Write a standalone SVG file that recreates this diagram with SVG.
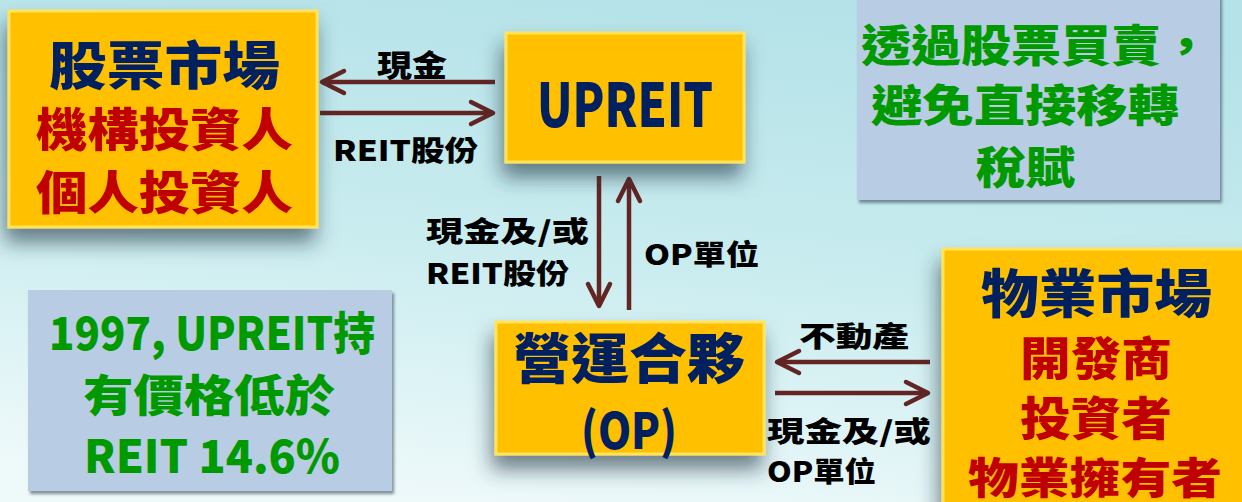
<svg xmlns="http://www.w3.org/2000/svg" width="1242" height="502" viewBox="0 0 1242 502">
<defs>
<linearGradient id="bg" x1="0.6" y1="0" x2="0.35" y2="1">
<stop offset="0" stop-color="#B4E2E8"/>
<stop offset="0.5" stop-color="#C9ECEF"/>
<stop offset="1" stop-color="#EEF9FA"/>
</linearGradient>
<filter id="bigShadow" x="-20%" y="-20%" width="140%" height="150%">
<feDropShadow dx="-3" dy="14" stdDeviation="10" flood-color="#1E3440" flood-opacity="0.6"/>
</filter>
<filter id="smallShadow" x="-10%" y="-10%" width="120%" height="130%">
<feDropShadow dx="2" dy="3" stdDeviation="1.5" flood-color="#2A3A48" flood-opacity="0.55"/>
</filter>
<marker id="head" markerUnits="userSpaceOnUse" markerWidth="34" markerHeight="34" viewBox="-28 -17 34 34" refX="0" refY="0" orient="auto">
<path d="M-22,-11 L0,0 L-22,11" fill="none" stroke="#632523" stroke-width="4.5" stroke-linejoin="round" stroke-linecap="round"/>
</marker>
</defs>
<style>
.ybox{fill:#FFC000;stroke:#FFE45A;stroke-width:3;filter:url(#bigShadow)}
.gbox{fill:#B8CCE4;filter:url(#smallShadow)}
.t{font-family:"Noto Sans CJK TC","Noto Sans CJK SC",sans-serif;font-weight:900;dominant-baseline:central}
.navy{fill:#002060}
.red{fill:#C00000}
.green{fill:#009A00}
.lbl{fill:#000000}
.arr{stroke:#632523;stroke-width:4.5;fill:none;marker-end:url(#head)}
</style>
<rect x="0" y="0" width="1242" height="502" fill="url(#bg)"/>

<g id="connectors">
<line class="arr" x1="495" y1="82" x2="322" y2="82"/>
<line class="arr" x1="320" y1="113" x2="493" y2="113"/>
<line class="arr" x1="599" y1="176" x2="599" y2="306"/>
<line class="arr" x1="629" y1="310" x2="629" y2="179"/>
<line class="arr" x1="930" y1="362" x2="777" y2="362"/>
<line class="arr" x1="775" y1="393" x2="928" y2="393"/>
<text class="t lbl" x="377" y="63" font-size="30" textLength="70" lengthAdjust="spacingAndGlyphs">現金</text>
<text class="t lbl" x="333" y="149" font-size="28" textLength="145" lengthAdjust="spacingAndGlyphs">REIT股份</text>
<text class="t lbl" x="426" y="230" font-size="28" textLength="163" lengthAdjust="spacingAndGlyphs">現金及/或</text>
<text class="t lbl" x="426" y="272" font-size="28" textLength="143" lengthAdjust="spacingAndGlyphs">REIT股份</text>
<text class="t lbl" x="644" y="253" font-size="28" textLength="115" lengthAdjust="spacingAndGlyphs">OP單位</text>
<text class="t lbl" x="799" y="335" font-size="28" textLength="110" lengthAdjust="spacingAndGlyphs">不動產</text>
<text class="t lbl" x="767" y="430" font-size="28" textLength="164" lengthAdjust="spacingAndGlyphs">現金及/或</text>
<text class="t lbl" x="767" y="470" font-size="28" textLength="109" lengthAdjust="spacingAndGlyphs">OP單位</text>
</g>

<g id="stock-market">
<rect class="ybox" x="9" y="11" width="308" height="216"/>
<text class="t navy" x="49" y="62" font-size="52" textLength="231" lengthAdjust="spacingAndGlyphs">股票市場</text>
<text class="t red" x="36" y="126" font-size="46" textLength="257" lengthAdjust="spacingAndGlyphs">機構投資人</text>
<text class="t red" x="36" y="189" font-size="46" textLength="257" lengthAdjust="spacingAndGlyphs">個人投資人</text>
</g>

<g id="upreit">
<rect class="ybox" x="506" y="33" width="238" height="129"/>
<text class="t navy" x="537" y="100" font-size="60" textLength="176" lengthAdjust="spacingAndGlyphs">UPREIT</text>
</g>

<g id="op">
<rect class="ybox" x="496" y="322" width="268" height="132"/>
<text class="t navy" x="513" y="355" font-size="54" textLength="232" lengthAdjust="spacingAndGlyphs">營運合夥</text>
<text class="t navy" x="581" y="427" font-size="50" textLength="96" lengthAdjust="spacingAndGlyphs">(OP)</text>
</g>

<g id="property-market">
<rect class="ybox" x="943" y="249" width="310" height="270"/>
<text class="t navy" x="981" y="290" font-size="52" textLength="231" lengthAdjust="spacingAndGlyphs">物業市場</text>
<text class="t red" x="1020" y="355" font-size="46" textLength="152" lengthAdjust="spacingAndGlyphs">開發商</text>
<text class="t red" x="1020" y="415" font-size="46" textLength="152" lengthAdjust="spacingAndGlyphs">投資者</text>
<text class="t red" x="968" y="475" font-size="43" textLength="254" lengthAdjust="spacingAndGlyphs">物業擁有者</text>
</g>

<g id="note-tax">
<rect class="gbox" x="857" y="-5" width="363" height="205"/>
<text class="t green" x="861" y="43" font-size="44" textLength="350" lengthAdjust="spacingAndGlyphs">透過股票買賣，</text>
<text class="t green" x="871" y="103" font-size="44" textLength="308" lengthAdjust="spacingAndGlyphs">避免直接移轉</text>
<text class="t green" x="976" y="165" font-size="44" textLength="99" lengthAdjust="spacingAndGlyphs">稅賦</text>
</g>

<g id="note-1997">
<rect class="gbox" x="28" y="290" width="364" height="201"/>
<text class="t green" x="49" y="330" font-size="46" textLength="326" lengthAdjust="spacingAndGlyphs">1997, UPREIT持</text>
<text class="t green" x="83" y="393" font-size="44" textLength="252" lengthAdjust="spacingAndGlyphs">有價格低於</text>
<text class="t green" x="84" y="453" font-size="46" textLength="256" lengthAdjust="spacingAndGlyphs">REIT  14.6%</text>
</g>
</svg>
